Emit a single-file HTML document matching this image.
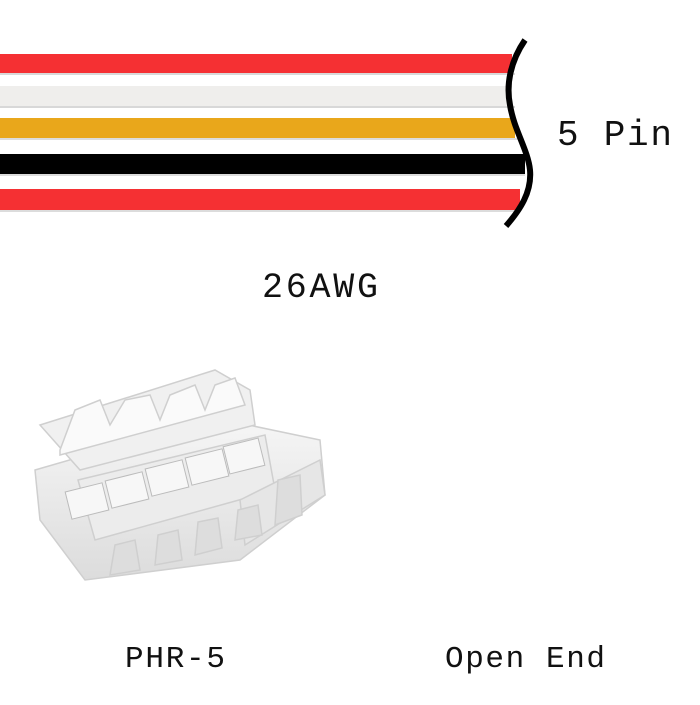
<!DOCTYPE html>
<html><head><style>
body{margin:0;background:#fff;}
svg text{font-family:"Liberation Mono",monospace;fill:#111;}
</style></head><body>
<svg width="700" height="700" viewBox="0 0 700 700" xmlns="http://www.w3.org/2000/svg">
<defs>
<linearGradient id="g" x1="0" y1="0" x2="0" y2="1"><stop offset="0" stop-color="#f6f6f6"/><stop offset="1" stop-color="#dcdcdc"/></linearGradient>
</defs>
<rect x="0" y="73" width="515" height="2" fill="#d8d8d8"/>
<rect x="0" y="106" width="515" height="2" fill="#d8d8d8"/>
<rect x="0" y="138" width="520" height="2" fill="#dcdcdc"/>
<rect x="0" y="174" width="525" height="2" fill="#dcdcdc"/>
<rect x="0" y="210" width="520" height="2" fill="#dcdcdc"/>
<rect x="0" y="54" width="512" height="19" fill="#f53033"/>
<rect x="0" y="86" width="512" height="20" fill="#efeeec"/>
<rect x="0" y="118" width="515" height="20" fill="#e9a71b"/>
<rect x="0" y="154" width="525" height="20" fill="#000"/>
<rect x="0" y="189" width="520" height="21" fill="#f53033"/>
<path d="M525,40 C510,62 506,85 510,105 C514,130 528,150 530,170 C532,192 520,210 506,226" fill="none" stroke="#000" stroke-width="6"/>
<text x="557" y="145" font-size="36" textLength="115">5 Pin</text>
<text x="262" y="297" font-size="35" textLength="116">26AWG</text>
<text x="125" y="667" font-size="31" textLength="100">PHR-5</text>
<text x="445" y="667" font-size="31" textLength="160">Open End</text>
<g stroke="#cfcfcf" stroke-width="1.5">
<path d="M35,470 L215,418 L320,440 L325,495 L240,560 L85,580 L40,520 Z" fill="url(#g)"/>
<path d="M40,425 L215,370 L250,390 L255,425 L80,470 Z" fill="#f0f0f0"/>
<path d="M60,450 L75,410 L100,400 L110,425 L125,400 L150,395 L160,420 L170,395 L195,385 L205,410 L215,385 L235,378 L245,405 L60,455 Z" fill="#fafafa"/>
<path d="M78,480 L265,435 L275,490 L95,540 Z" fill="#ececec"/>
<path d="M240,500 L320,460 L325,495 L245,545 Z" fill="#e6e6e6"/>
<path d="M110,575 L115,545 L135,540 L140,570 Z" fill="#dddddd"/>
<path d="M155,565 L158,535 L178,530 L182,560 Z" fill="#dddddd"/>
<path d="M195,555 L198,522 L218,518 L222,548 Z" fill="#dddddd"/>
<path d="M235,540 L238,510 L258,505 L262,535 Z" fill="#dddddd"/>
<path d="M275,525 L278,480 L300,475 L302,515 Z" fill="#dddddd"/>
</g>
<g fill="#f7f7f7" stroke="#bbb" stroke-width="1">
<rect x="68" y="487" width="38" height="28" transform="rotate(-14 87 501)"/>
<rect x="108" y="476" width="38" height="28" transform="rotate(-14 127 490)"/>
<rect x="148" y="464" width="38" height="28" transform="rotate(-14 167 478)"/>
<rect x="188" y="453" width="38" height="28" transform="rotate(-14 207 467)"/>
<rect x="226" y="442" width="36" height="28" transform="rotate(-14 244 456)"/>
</g>
</svg>
</body></html>
